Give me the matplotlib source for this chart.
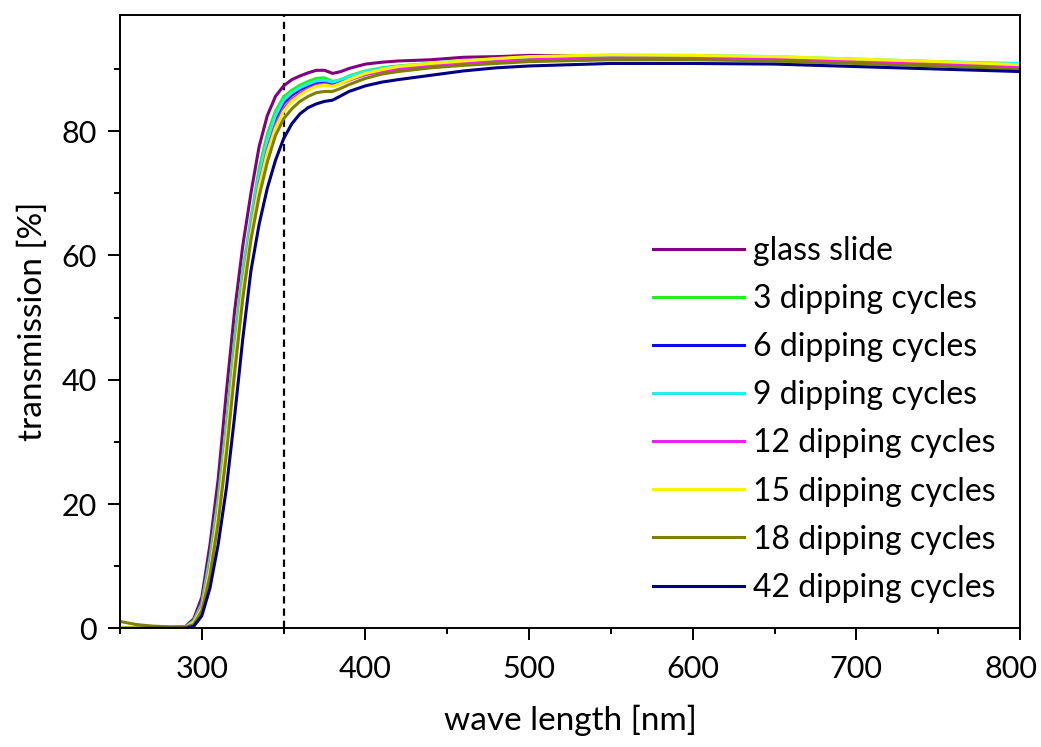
import matplotlib
matplotlib.use("Agg")
import matplotlib.pyplot as plt
from matplotlib.ticker import MultipleLocator
from matplotlib.transforms import ScaledTranslation

plt.rcParams["font.family"] = ["Lato", "DejaVu Sans"]

# wavelength grid [nm]
wavelength = [250, 260, 270, 280, 290, 295, 300, 305, 310, 315, 320, 325, 330,
              335, 340, 345, 350, 355, 360, 365, 370, 375, 380, 385, 390, 400,
              410, 420, 440, 460, 480, 500, 550, 600, 650, 700, 750, 800]

# transmission [%]
glass = [0.1, 0.1, 0.1, 0.1, 0.3, 1.5, 5.0, 13.5, 24.0, 38.0, 51.0, 61.5, 70.0,
         77.5, 82.5, 85.6, 87.3, 88.3, 88.9, 89.4, 89.8, 89.8, 89.3, 89.6, 90.1, 90.8,
         91.1, 91.3, 91.5, 91.9, 92.0, 92.2, 92.1, 91.9, 91.7, 91.2, 90.9, 90.3]
cyc3 = [0.1, 0.1, 0.1, 0.1, 0.2, 1.2, 4.0, 11.5, 21.0, 33.0, 46.5, 57.5, 66.0,
        74.0, 79.5, 83.2, 85.5, 86.6, 87.4, 88.0, 88.5, 88.6, 88.0, 88.3, 88.9, 89.7,
        90.2, 90.5, 90.9, 91.3, 91.6, 91.8, 92.0, 92.0, 91.7, 91.3, 90.9, 90.5]
cyc6 = [0.1, 0.1, 0.1, 0.1, 0.2, 1.0, 3.6, 10.5, 19.5, 31.5, 44.5, 56.0, 65.0,
        72.5, 78.0, 82.0, 84.5, 85.8, 86.7, 87.3, 87.8, 88.0, 87.7, 88.1, 88.6, 89.4,
        89.9, 90.2, 90.7, 91.1, 91.4, 91.6, 91.9, 91.9, 91.6, 91.2, 90.7, 90.1]
cyc9 = [0.1, 0.1, 0.1, 0.1, 0.2, 1.1, 3.8, 11.0, 20.0, 32.0, 45.0, 56.5, 65.5,
        73.0, 78.5, 82.5, 85.0, 86.2, 87.0, 87.6, 88.1, 88.2, 87.9, 88.3, 88.8, 89.6,
        90.1, 90.4, 90.9, 91.3, 91.6, 91.9, 92.2, 92.2, 92.0, 91.6, 91.2, 90.9]
cyc12 = [0.1, 0.1, 0.1, 0.1, 0.2, 0.9, 3.4, 10.0, 19.0, 30.5, 43.5, 55.0, 64.0,
         71.5, 77.0, 81.0, 83.6, 85.1, 86.1, 86.8, 87.4, 87.6, 87.3, 87.7, 88.2, 89.1,
         89.6, 90.0, 90.5, 90.9, 91.2, 91.5, 91.8, 91.8, 91.6, 91.2, 90.8, 90.3]
cyc15 = [0.1, 0.1, 0.1, 0.1, 0.2, 0.9, 3.2, 9.5, 18.5, 30.0, 43.0, 54.5, 63.5,
         71.0, 76.5, 80.5, 83.2, 84.8, 85.8, 86.6, 87.2, 87.4, 87.2, 87.7, 88.3, 89.3,
         89.9, 90.4, 90.9, 91.3, 91.7, 92.0, 92.3, 92.2, 92.0, 91.6, 91.2, 90.7]
cyc18 = [1.1, 0.6, 0.35, 0.25, 0.2, 0.6, 2.8, 8.5, 17.0, 28.0, 41.0, 53.0, 62.5,
         69.5, 75.0, 79.3, 82.0, 83.6, 84.8, 85.6, 86.2, 86.4, 86.4, 86.9, 87.5, 88.5,
         89.2, 89.6, 90.2, 90.6, 90.9, 91.2, 91.5, 91.5, 91.3, 90.9, 90.5, 90.0]
cyc42 = [0.0, 0.0, 0.0, 0.0, 0.0, 0.3, 2.0, 6.5, 13.5, 22.5, 34.0, 46.5, 57.5,
         65.0, 70.8, 75.3, 78.8, 81.2, 82.8, 83.8, 84.4, 84.8, 85.0, 85.7, 86.4, 87.3,
         87.9, 88.3, 89.0, 89.7, 90.2, 90.5, 90.9, 90.9, 90.8, 90.4, 90.0, 89.6]

labels = ["glass slide", "3 dipping cycles", "6 dipping cycles", "9 dipping cycles",
          "12 dipping cycles", "15 dipping cycles", "18 dipping cycles", "42 dipping cycles"]
colors = ["#800080", "#22ee22", "#0a0aee", "#22eeee", "#ee22ee", "#f5f500", "#808000", "#000080"]
series = [glass, cyc3, cyc6, cyc9, cyc12, cyc15, cyc18, cyc42]

cutoff = 350  # nm, dashed marker

fig = plt.figure(figsize=(10.41, 7.47), dpi=100)
ax = fig.add_axes([120 / 1041, 118.7 / 747, 900 / 1041, 613.3 / 747])

for y, c, lab in zip(series, colors, labels):
    ax.plot(wavelength, y, color=c, lw=2.2, label=lab)

ax.axvline(cutoff, color="black", lw=1.6, ls=(0, (3.3, 2.2)), zorder=0)

ax.set_xlim(250, 800)
ax.set_ylim(0, 98.7)
ax.set_xticks([300, 400, 500, 600, 700, 800])
ax.xaxis.set_minor_locator(MultipleLocator(50))
ax.yaxis.set_major_locator(MultipleLocator(20))
ax.yaxis.set_minor_locator(MultipleLocator(10))
ax.tick_params(which="major", direction="out", length=8.5, width=1.4, labelsize=22)
ax.tick_params(axis="x", which="major", pad=11)
ax.tick_params(axis="y", which="major", pad=8)
ax.tick_params(which="minor", direction="out", length=4.3, width=1.4)
for sp in ax.spines.values():
    sp.set_linewidth(1.4)

ax.set_xlabel("wave length [nm]", fontsize=24, labelpad=15)
ax.set_ylabel("transmission [%]", fontsize=24, labelpad=10)

leg = ax.legend(loc="upper left", bbox_to_anchor=(653 / 1041, 1 - 236 / 747),
                bbox_transform=fig.transFigure, frameon=False, fontsize=23,
                handlelength=2.85, handletextpad=0.28, labelspacing=0.567,
                borderpad=0, borderaxespad=0)
for h in leg.get_lines():
    h.set_linewidth(2.2)

# keep the last x label inside the canvas
fig.canvas.draw()
last = ax.xaxis.get_major_ticks()[-1].label1
last.set_horizontalalignment("right")
last.set_transform(last.get_transform() + ScaledTranslation(17 / 100, 0, fig.dpi_scale_trans))

fig.savefig("out.png", dpi=100)
